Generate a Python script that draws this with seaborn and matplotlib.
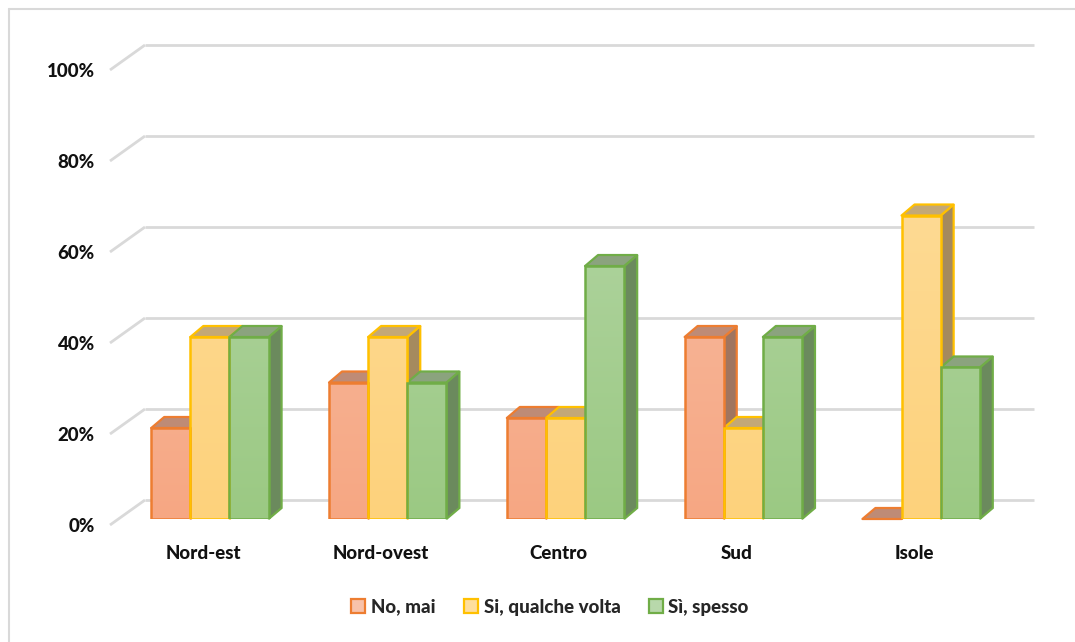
import numpy as np
import pandas as pd
import matplotlib
matplotlib.use("Agg")
import matplotlib.pyplot as plt
import matplotlib.transforms as mtransforms
from matplotlib.patches import Polygon, Rectangle
from matplotlib.lines import Line2D
from matplotlib.colors import LinearSegmentedColormap
import seaborn as sns

# Survey results by area (share of answers, %)
areas = ["Nord-est", "Nord-ovest", "Centro", "Sud", "Isole"]
answers = ["No, mai", "Si, qualche volta", "Sì, spesso"]
no_mai = [20.0, 30.0, 22.2, 40.0, 0.0]
qualche_volta = [40.0, 40.0, 22.2, 20.0, 66.7]
spesso = [40.0, 30.0, 55.6, 40.0, 33.3]
y_ticks = [0, 20, 40, 60, 80, 100]
y_tick_labels = ["0%", "20%", "40%", "60%", "80%", "100%"]

df = pd.DataFrame({
    "area": np.repeat(areas, 3),
    "risposta": answers * len(areas),
    "valore": np.ravel(np.column_stack([no_mai, qualche_volta, spesso])),
})

# Face styling: edge, gradient top / bottom, top face, side face
styles = {
    "No, mai": dict(edge="#ED7D31", light="#F8C2AA", dark="#F6A783",
                    top="#BE8B76", side="#A0755F"),
    "Si, qualche volta": dict(edge="#FFC000", light="#FEDE9E", dark="#FDD27C",
                              top="#C3A877", side="#A58A5E"),
    "Sì, spesso": dict(edge="#70AD47", light="#B8D8AB", dark="#9BC983",
                       top="#8BA37E", side="#6B8A5D"),
}

FONT = ["Lato", "DejaVu Sans"]
FSIZE = 13.5
WEIGHT = "black"

sns.set_theme(style="white")
plt.rcParams["font.family"] = FONT

DPI = 100
W, H = 1075, 642
fig = plt.figure(figsize=(W / DPI, H / DPI), dpi=DPI)

# Plot area in pixel terms: x from 121 to 1010, y=0% at 519, y=100% at 64
x0, x1 = 121, 1010
yb, yt = 519, 64
ax = fig.add_axes([x0 / W, (H - yb) / H, (x1 - x0) / W, (yb - yt) / H])
ax.set_xlim(-0.5, len(areas) - 0.5)
ax.set_ylim(0, 100)
for s in ax.spines.values():
    s.set_visible(False)

def px_offset(dx, dy):
    """Shift by screen pixels (dx right, dy up)."""
    return mtransforms.ScaledTranslation(dx / DPI, dy / DPI, fig.dpi_scale_trans)

# Back wall gridlines and left-wall diagonals
back = ax.transData + px_offset(24, 19)
grid_c = "#D9D9D9"
inv = ax.transData.inverted()
for v in y_ticks:
    ax.plot([-0.5, len(areas) - 0.5], [v, v], color=grid_c, lw=2.0,
            transform=back, clip_on=False, zorder=0, solid_capstyle="butt")
    p_back = back.transform((-0.5, v))
    p_front = p_back + np.array([-35, -25])
    a = inv.transform(p_back)
    b = inv.transform(p_front)
    ax.plot([a[0], b[0]], [a[1], b[1]], color=grid_c, lw=2.0,
            clip_on=False, zorder=0, solid_capstyle="butt")

sns.barplot(data=df, x="area", y="valore", hue="risposta", order=areas,
            hue_order=answers, width=0.66, dodge=True, ax=ax,
            legend=False, saturation=1, zorder=3)

# Depth of each bar in pixels
DX, DY = 13, 11
d = np.array([DX, DY])

def gradient_cmap(c_top, c_bot):
    return LinearSegmentedColormap.from_list("g", [c_bot, c_top])

bars = list(ax.patches)
for i, patch in enumerate(bars):
    hue = answers[i // len(areas)]
    st = styles[hue]
    x = patch.get_x()
    w = patch.get_width()
    h = patch.get_height()
    br = ax.transData.transform((x + w, 0))
    tl = ax.transData.transform((x, h))
    tr = ax.transData.transform((x + w, h))
    side = inv.transform(np.array([br, br + d, tr + d, tr]))
    ax.add_patch(Polygon(side, closed=True, facecolor=st["side"],
                         edgecolor=st["edge"], lw=1.6, zorder=2.5 + i * 0.001,
                         clip_on=False))
    top = inv.transform(np.array([tl, tr, tr + d, tl + d]))
    ax.add_patch(Polygon(top, closed=True, facecolor=st["top"],
                         edgecolor=st["edge"], lw=1.6, zorder=2.6 + i * 0.001,
                         clip_on=False, joinstyle="round"))
    patch.set_facecolor("none")
    patch.set_edgecolor(st["edge"])
    patch.set_linewidth(1.8)
    patch.set_zorder(4)
    if h > 0:
        grad = np.linspace(0, 1, 256).reshape(-1, 1)
        im = ax.imshow(grad, cmap=gradient_cmap(st["light"], st["dark"]),
                       extent=(x, x + w, 0, 100), origin="lower",
                       aspect="auto", zorder=3.5, interpolation="bilinear")
        im.set_clip_path(patch)

ax.set_xlim(-0.5, len(areas) - 0.5)
ax.set_ylim(0, 100)

# Axis labels
ax.set_xlabel("")
ax.set_ylabel("")
ax.set_yticks(y_ticks)
ax.set_yticklabels(y_tick_labels)
ax.tick_params(axis="y", length=0, pad=19, labelsize=FSIZE)
ax.tick_params(axis="x", length=0, pad=19, labelsize=FSIZE)
for lab in ax.get_yticklabels():
    lab.set_fontweight(WEIGHT)
    lab.set_color("#111111")
    lab.set_transform(lab.get_transform() + px_offset(0, -6))
for lab in ax.get_xticklabels():
    lab.set_fontweight(WEIGHT)
    lab.set_color("#111111")
    lab.set_transform(lab.get_transform() + px_offset(-7, 0))

# Legend
handles = [Rectangle((0, 0), 1, 1, facecolor=styles[a]["light"],
                     edgecolor=styles[a]["edge"], lw=1.6) for a in answers]
fig.legend(handles, answers, loc="center", bbox_to_anchor=(550 / W, 1 - 607 / H),
           ncol=3, frameon=False, handlelength=0.75, handleheight=0.75,
           handletextpad=0.3, columnspacing=1.5,
           prop=dict(family=FONT, weight=WEIGHT, size=FSIZE))

# Chart border (top and left edges)
fig.add_artist(Line2D([9 / W, 9 / W], [0, 1 - 9 / H], color="#D9D9D9", lw=1.5))
fig.add_artist(Line2D([9 / W, 1], [1 - 9 / H, 1 - 9 / H], color="#D9D9D9", lw=1.5))

fig.savefig("out.png", dpi=DPI, facecolor="white")
